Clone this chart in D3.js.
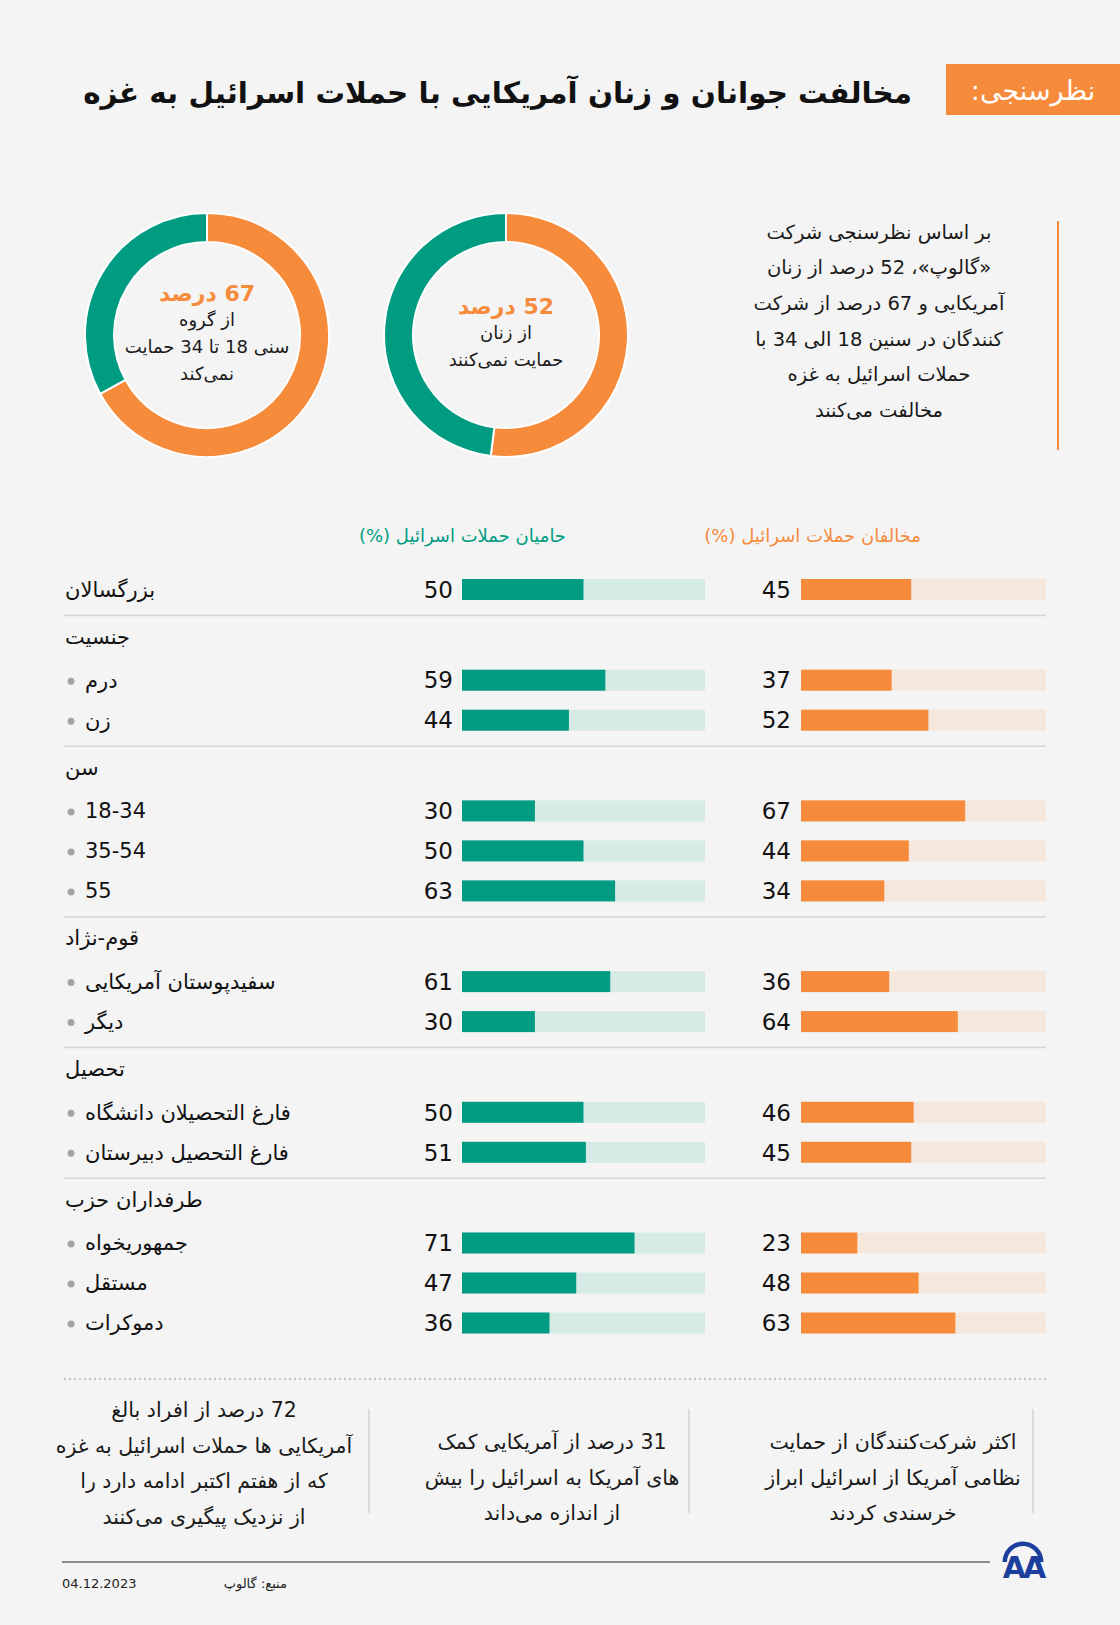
<!DOCTYPE html>
<html><head><meta charset="utf-8">
<script src="https://cdn.jsdelivr.net/npm/d3@7"></script>
<style>
html,body{margin:0;padding:0;background:#f4f4f4;}
svg{display:block;}
text{font-family:"DejaVu Sans", sans-serif;}
</style></head><body>
<svg id="c" width="1120" height="1625"></svg>
<script>
// ---------- DATA ----------
const categories = ["بزرگسالان","جنسیت","درم","زن","سن","18-34","35-54","55","قوم-نژاد","سفیدپوستان آمریکایی","دیگر","تحصیل","فارغ التحصیلان دانشگاه","فارغ التحصیل دبیرستان","طرفداران حزب","جمهوریخواه","مستقل","دموکرات"];
const rowKinds = ["total","header","sub","sub","header","sub","sub","sub","header","sub","sub","header","sub","sub","header","sub","sub","sub"];
const supportValues = [50,null,59,44,null,30,50,63,null,61,30,null,50,51,null,71,47,36];
const opposeValues  = [45,null,37,52,null,67,44,34,null,36,64,null,46,45,null,23,48,63];
const seriesNames = ["مخالفان حملات اسرائیل","حامیان حملات اسرائیل"];
const donutWomen = [52,48];
const donutYouth = [67,33];
const donutWomenText = ["52 درصد","از زنان","حمایت نمی‌کنند"];
const donutYouthText = ["67 درصد","از گروه","سنی 18 تا 34 حمایت","نمی‌کند"];
const title = "مخالفت جوانان و زنان آمریکایی با حملات اسرائیل به غزه";
const tag = "نظرسنجی:";
const introLines = ["بر اساس نظرسنجی شرکت","«گالوپ»، 52 درصد از زنان","آمریکایی و 67 درصد از شرکت","کنندگان در سنین 18 الی 34 با","حملات اسرائیل به غزه","مخالفت می‌کنند"];
const noteRight = ["اکثر شرکت‌کنندگان از حمایت","نظامی آمریکا از اسرائیل ابراز","خرسندی کردند"];
const noteMid = ["31 درصد از آمریکایی کمک","های آمریکا به اسرائیل را بیش","از اندازه می‌داند"];
const noteLeft = ["72 درصد از افراد بالغ","آمریکایی ها حملات اسرائیل به غزه","که از هفتم اکتبر ادامه دارد را","از نزدیک پیگیری می‌کنند"];
const sourceText = "منبع: گالوپ";
const dateText = "04.12.2023";

// ---------- STYLE ----------
const ORANGE = "#f68b3c", GREEN = "#009c82", ORANGE_L = "#f6e7dd", GREEN_L = "#d6eae6";
const svg = d3.select("#c");
svg.append("rect").attr("width",1120).attr("height",1625).attr("fill","#f4f4f4");

function fit(sel, maxW){
  sel.each(function(){
    const w = this.getComputedTextLength();
    if (w > maxW){
      const fs = parseFloat(d3.select(this).attr("font-size"));
      d3.select(this).attr("font-size", fs*maxW/w);
    }
  });
}
function rtl(sel){ return sel.attr("direction","rtl").style("unicode-bidi","embed"); }

// ---------- HEADER ----------
svg.append("rect").attr("x",946).attr("y",64).attr("width",174).attr("height",51).attr("fill",ORANGE);
rtl(svg.append("text")).attr("x",1033).attr("y",91).attr("dy","0.35em").attr("text-anchor","middle")
  .attr("font-size",27).attr("fill","#fff").text(tag);
const tt = rtl(svg.append("text")).attr("x",912).attr("y",93).attr("dy","0.35em").attr("text-anchor","start")
  .attr("font-size",34).attr("font-weight","bold").attr("fill","#111").text(title);
fit(tt, 829);

// ---------- DONUTS ----------
const pie = d3.pie().sort(null).value(d=>d);
const arc = d3.arc().innerRadius(93).outerRadius(122);
function donut(cx, cy, vals, lines, y0, step){
  const g = svg.append("g").attr("transform",`translate(${cx},${cy})`);
  g.selectAll("path").data(pie(vals)).join("path").attr("d",arc)
    .attr("fill",(d,i)=> i===0?ORANGE:GREEN).attr("stroke","#fff").attr("stroke-width",2);
  lines.forEach((t,i)=>{
    rtl(g.append("text")).attr("x",0).attr("y",y0+i*step).attr("dy","0.35em")
      .attr("text-anchor","middle").attr("font-size", i===0?22:18)
      .attr("font-weight", i===0?"bold":"normal").attr("fill", i===0?ORANGE:"#1a1a1a").text(t);
  });
}
donut(506, 335, donutWomen, donutWomenText, -29, 27);
donut(207, 335, donutYouth, donutYouthText, -42, 27);

// ---------- INTRO ----------
introLines.forEach((t,i)=>{
  rtl(svg.append("text")).attr("x",879).attr("y",232+i*35.6).attr("dy","0.35em").attr("text-anchor","middle")
    .attr("font-size",19.5).attr("fill","#1a1a1a").text(t);
});
svg.append("line").attr("x1",1058).attr("x2",1058).attr("y1",221).attr("y2",450).attr("stroke",ORANGE).attr("stroke-width",2);

// ---------- BAR CHART ----------
const xOpp = d3.scaleLinear().domain([0,100]).range([801,1046]);
const xSup = d3.scaleLinear().domain([0,100]).range([462,705]);
const ys = []; const seps = [];
let yy = 589.5;
rowKinds.forEach((k,i)=>{
  if (i>0){
    if (k==="header"){ seps.push(yy+26); yy += 47; }
    else if (rowKinds[i-1]==="header"){ yy += 43.7; }
    else yy += 40;
  }
  ys.push(yy);
});
const y = d3.scaleOrdinal().domain(categories).range(ys);
const BH = 21;

// legend
rtl(svg.append("text")).attr("x",921).attr("y",536).attr("dy","0.35em").attr("text-anchor","start")
  .attr("font-size",18).attr("fill",ORANGE).text(seriesNames[0]+"   (%)");
rtl(svg.append("text")).attr("x",566).attr("y",536).attr("dy","0.35em").attr("text-anchor","start")
  .attr("font-size",18).attr("fill",GREEN).text(seriesNames[1]+"   (%)");

svg.selectAll("line.sep").data(seps).join("line").attr("class","sep")
  .attr("x1",64).attr("x2",1046).attr("y1",d=>d).attr("y2",d=>d).attr("stroke","#d6d6d6").attr("stroke-width",1.5);

const rows = categories.map((c,i)=>({c, k:rowKinds[i], s:supportValues[i], o:opposeValues[i]}));
const bars = rows.filter(r=>r.s!=null);

rows.forEach(r=>{
  const isSub = r.k==="sub";
  rtl(svg.append("text")).attr("x", isSub?85:65).attr("y",y(r.c)).attr("dy","0.35em").attr("text-anchor","end")
    .attr("font-size",21).attr("fill","#111").text(r.c);
  if (isSub) svg.append("circle").attr("cx",71).attr("cy",y(r.c)+1).attr("r",3.5).attr("fill","#a3a3a3");
});

svg.selectAll("rect.ts").data(bars).join("rect").attr("class","ts")
  .attr("x",xSup(0)).attr("width",xSup(100)-xSup(0)).attr("y",d=>y(d.c)-BH/2).attr("height",BH).attr("fill",GREEN_L);
svg.selectAll("rect.to").data(bars).join("rect").attr("class","to")
  .attr("x",xOpp(0)).attr("width",xOpp(100)-xOpp(0)).attr("y",d=>y(d.c)-BH/2).attr("height",BH).attr("fill",ORANGE_L);
svg.selectAll("rect.bs").data(bars).join("rect").attr("class","bs")
  .attr("x",xSup(0)).attr("width",d=>xSup(d.s)-xSup(0)).attr("y",d=>y(d.c)-BH/2).attr("height",BH).attr("fill",GREEN);
svg.selectAll("rect.bo").data(bars).join("rect").attr("class","bo")
  .attr("x",xOpp(0)).attr("width",d=>xOpp(d.o)-xOpp(0)).attr("y",d=>y(d.c)-BH/2).attr("height",BH).attr("fill",ORANGE);
svg.selectAll("text.vs").data(bars).join("text").attr("class","vs")
  .attr("x",xSup(0)-9).attr("y",d=>y(d.c)).attr("dy","0.36em").attr("text-anchor","end")
  .attr("font-size",23).attr("fill","#111").text(d=>d.s);
svg.selectAll("text.vo").data(bars).join("text").attr("class","vo")
  .attr("x",xOpp(0)-10).attr("y",d=>y(d.c)).attr("dy","0.36em").attr("text-anchor","end")
  .attr("font-size",23).attr("fill","#111").text(d=>d.o);

// ---------- NOTES ----------
svg.append("line").attr("x1",64).attr("x2",1046).attr("y1",1379).attr("y2",1379)
  .attr("stroke","#b5b5b5").attr("stroke-width",1.5).attr("stroke-dasharray","2,3");
[369,689,1033].forEach(x=>svg.append("line").attr("x1",x).attr("x2",x).attr("y1",1409).attr("y2",1513).attr("stroke","#c8c8c8").attr("stroke-width",1.2));
function note(lines, cx, y0, maxW){
  lines.forEach((t,i)=>{
    const el = rtl(svg.append("text")).attr("x",cx).attr("y",y0+i*35.5).attr("dy","0.35em").attr("text-anchor","middle")
      .attr("font-size",20.5).attr("fill","#1a1a1a").text(t);
    fit(el, maxW);
  });
}
note(noteRight, 893, 1442, 260);
note(noteMid, 552, 1442, 260);
note(noteLeft, 204, 1410, 300);

// ---------- FOOTER ----------
svg.append("line").attr("x1",62).attr("x2",990).attr("y1",1562).attr("y2",1562).attr("stroke","#6b6b6b").attr("stroke-width",1.5);
svg.append("text").attr("x",62).attr("y",1583).attr("dy","0.35em").attr("font-size",13).attr("fill","#222").text(dateText);
rtl(svg.append("text")).attr("x",287).attr("y",1583).attr("dy","0.35em").attr("text-anchor","start").attr("font-size",13).attr("fill","#222").text(sourceText);
const lg = svg.append("g").attr("transform","translate(1023,1562)");
lg.append("path").attr("d", d3.arc()({innerRadius:16, outerRadius:20.5, startAngle:-Math.PI/2, endAngle:Math.PI/2}))
  .attr("fill","#1c3f9e");
lg.append("text").attr("x",0).attr("y",16).attr("text-anchor","middle").attr("font-size",30).attr("font-weight","bold")
  .attr("letter-spacing","-3").attr("font-family","Liberation Sans Narrow, Liberation Sans, sans-serif").attr("fill","#1c3f9e").text("AA");
</script>
</body></html>
